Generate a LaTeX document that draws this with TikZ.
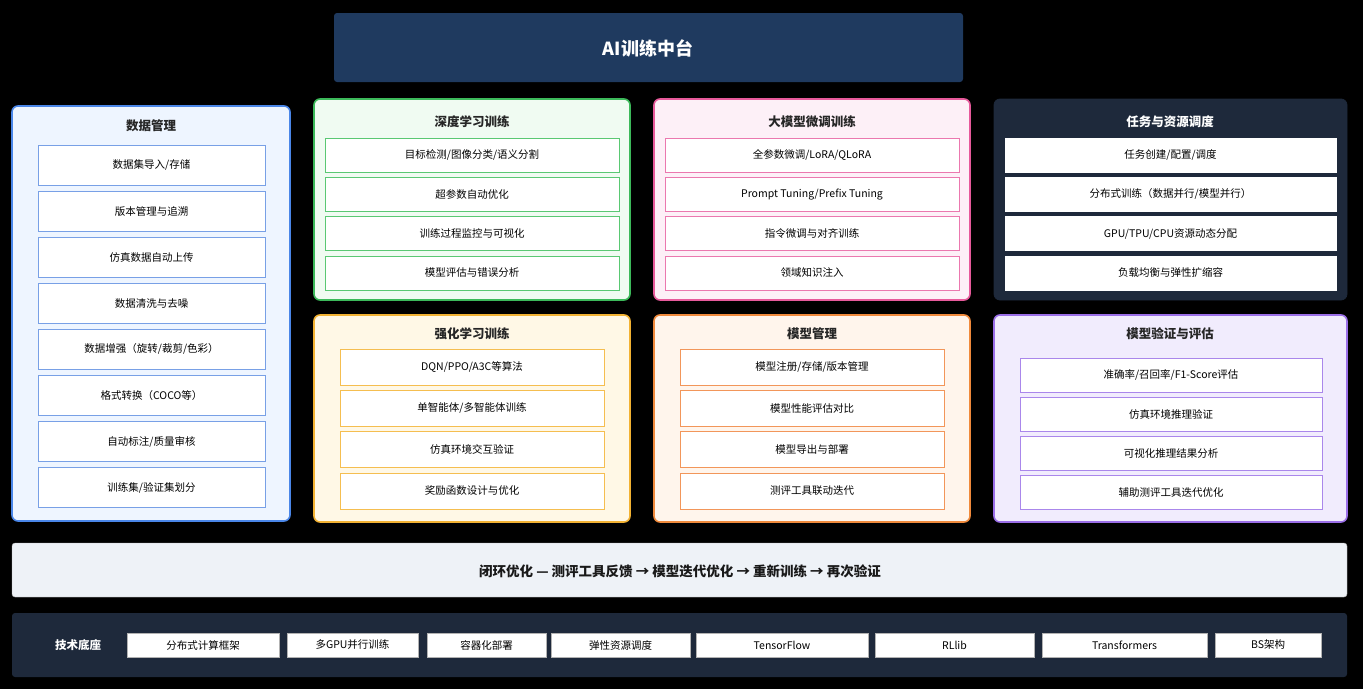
\documentclass[tikz,border=0pt]{standalone}
\usepackage{fontspec}
\setmainfont{Noto Sans CJK SC}
\definecolor{navy}{HTML}{1F3A5F}
\definecolor{dark}{HTML}{1E293B}
\definecolor{bB}{RGB}{74,134,232}\definecolor{bF}{RGB}{238,245,255}\definecolor{bI}{RGB}{120,160,230}
\definecolor{gB}{RGB}{60,185,90}\definecolor{gF}{RGB}{240,251,242}\definecolor{gI}{RGB}{90,200,115}
\definecolor{pB}{RGB}{231,90,155}\definecolor{pF}{RGB}{253,240,247}\definecolor{pI}{RGB}{235,120,175}
\definecolor{yB}{RGB}{242,178,51}\definecolor{yF}{RGB}{255,248,230}\definecolor{yI}{RGB}{245,190,80}
\definecolor{oB}{RGB}{240,138,60}\definecolor{oF}{RGB}{255,245,236}\definecolor{oI}{RGB}{242,150,90}
\definecolor{vB}{RGB}{155,111,232}\definecolor{vF}{RGB}{241,236,253}\definecolor{vI}{RGB}{170,135,235}
\definecolor{lF}{RGB}{238,242,247}
\begin{document}
\begin{tikzpicture}[x=1pt,y=-1pt,
 panel/.style={rounded corners=6pt,line width=1.6pt},
 item/.style={draw=#1,fill=white,line width=0.6pt,minimum height=34pt,font=\fontsize{10.5}{12}\selectfont,inner sep=0pt},
 ttl/.style={font=\fontsize{12.5}{14}\selectfont\bfseries,text=black!85},
 tech/.style={draw=gray!60,fill=white,minimum height=24pt,font=\fontsize{10.5}{12}\selectfont,inner sep=0pt}]
\useasboundingbox (0,0) rectangle (1363,689);
\fill[black] (0,0) rectangle (1363,689);
% title
\fill[navy,rounded corners=3pt] (334,13) rectangle (963,82);
\node[text=white,font=\fontsize{18}{20}\selectfont\bfseries] (title) at (648,48) {AI训练中台};
% data management
\draw[panel,draw=bB,fill=bF] (12,106) rectangle (290,521);
\node[ttl] (dt) at (151,126) {数据管理};
\foreach \t [count=\i] in {数据集导入/存储,版本管理与追溯,仿真数据自动上传,数据清洗与去噪,数据增强（旋转/裁剪/色彩）,格式转换（COCO等）,自动标注/质量审核,训练集/验证集划分}
  \node[item=bI,minimum width=227pt,minimum height=40pt] (d\i) at (151.5,{165+46.1*(\i-1)}) {\t};
% deep learning
\draw[panel,draw=gB,fill=gF] (314,99) rectangle (630,300);
\node[ttl] (dlt) at (472,122) {深度学习训练};
\foreach \t [count=\i] in {目标检测/图像分类/语义分割,超参数自动优化,训练过程监控与可视化,模型评估与错误分析}
  \node[item=gI,minimum width=294pt] (dl\i) at (472,{155+39.3*(\i-1)}) {\t};
% large model
\draw[panel,draw=pB,fill=pF] (654,99) rectangle (970,300);
\node[ttl] (lmt) at (812,122) {大模型微调训练};
\foreach \t [count=\i] in {全参数微调/LoRA/QLoRA,Prompt Tuning/Prefix Tuning,指令微调与对齐训练,领域知识注入}
  \node[item=pI,minimum width=294pt] (lm\i) at (812,{155+39.3*(\i-1)}) {\t};
% task
\draw[panel,line width=0.8pt,draw=dark,fill=dark] (994,99) rectangle (1347,300);
\node[ttl,text=white] (tkt) at (1170,122) {任务与资源调度};
\foreach \t [count=\i] in {任务创建/配置/调度,分布式训练（数据并行/模型并行）,GPU/TPU/CPU资源动态分配,负载均衡与弹性扩缩容}
  \node[item=white,minimum width=331pt] (tk\i) at (1170.5,{155+39.3*(\i-1)}) {\t};
% RL
\draw[panel,draw=yB,fill=yF] (314,315) rectangle (630,522);
\node[ttl] (rlt) at (472,334) {强化学习训练};
\foreach \t [count=\i] in {DQN/PPO/A3C等算法,单智能体/多智能体训练,仿真环境交互验证,奖励函数设计与优化}
  \node[item=yI,minimum width=264pt,minimum height=36pt] (rl\i) at (472,{367+41.3*(\i-1)}) {\t};
% model management
\draw[panel,draw=oB,fill=oF] (654,315) rectangle (970,522);
\node[ttl] (mmt) at (812,334) {模型管理};
\foreach \t [count=\i] in {模型注册/存储/版本管理,模型性能评估对比,模型导出与部署,测评工具联动迭代}
  \node[item=oI,minimum width=264pt,minimum height=36pt] (mm\i) at (812,{367+41.3*(\i-1)}) {\t};
% validation
\draw[panel,draw=vB,fill=vF] (994,315) rectangle (1347,522);
\node[ttl] (vat) at (1170,334) {模型验证与评估};
\foreach \t [count=\i] in {准确率/召回率/F1-Score评估,仿真环境推理验证,可视化推理结果分析,辅助测评工具迭代优化}
  \node[item=vI,minimum width=302pt] (va\i) at (1171,{375+39.1*(\i-1)}) {\t};
% closed loop
\draw[rounded corners=3pt,draw=gray!60,fill=lF] (12,543) rectangle (1347,597);
\node[font=\fontsize{13.5}{15}\selectfont\bfseries,text=black!90] (loop) at (680,571) {闭环优化 — 测评工具反馈 → 模型迭代优化 → 重新训练 → 再次验证};
% tech base
\fill[dark,rounded corners=3pt] (12,613) rectangle (1347,677);
\node[text=white,font=\fontsize{11.5}{13}\selectfont\bfseries] (tb) at (78,645) {技术底座};
\foreach \a/\b/\t [count=\i] in {127/279/分布式计算框架,287/418/多GPU并行训练,427/546/容器化部署,551/690/弹性资源调度,696/868/TensorFlow/PyTorch,875/1034/RLlib/OpenAI Gym,1042/1207/Transformers/PEFT,1215/1321/BS架构}
  \node[tech,minimum width={\b-\a}] (t\i) at ({(\a+\b)/2},645) {\t};
\end{tikzpicture}
\end{document}
